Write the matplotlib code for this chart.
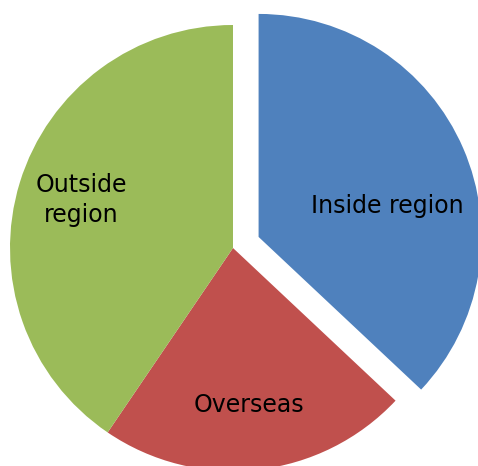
import numpy as np
import matplotlib.pyplot as plt

labels = ['Inside region', 'Overseas', 'Outside\nregion']
shares = [37.0, 22.5, 40.5]
colors = ['#4F81BD', '#C0504D', '#9BBB59']
explode = [0.125, 0, 0]

# label spots (data units, pie radius = 1)
label_xy = [(0.69, 0.19), (0.07, -0.705), (-0.68, 0.215)]

R = 223.0
cx, cy = 233.0, 248.0
W, H = 478, 466

fig = plt.figure(figsize=(W / 100, H / 100), dpi=100)
ax = fig.add_axes([0, 0, 1, 1])
ax.pie(shares, colors=colors, explode=explode, startangle=90, counterclock=False,
       radius=1, wedgeprops=dict(linewidth=0))
ax.set_aspect('auto')
ax.set_xlim(-cx / R, (W - cx) / R)
ax.set_ylim((cy - H) / R, cy / R)
ax.axis('off')

for lab, (x, y) in zip(labels, label_xy):
    ax.text(x, y, lab, ha='center', va='center', fontsize=17, color='black',
            family='DejaVu Sans', linespacing=1.3)

fig.savefig('out.png', dpi=100)
